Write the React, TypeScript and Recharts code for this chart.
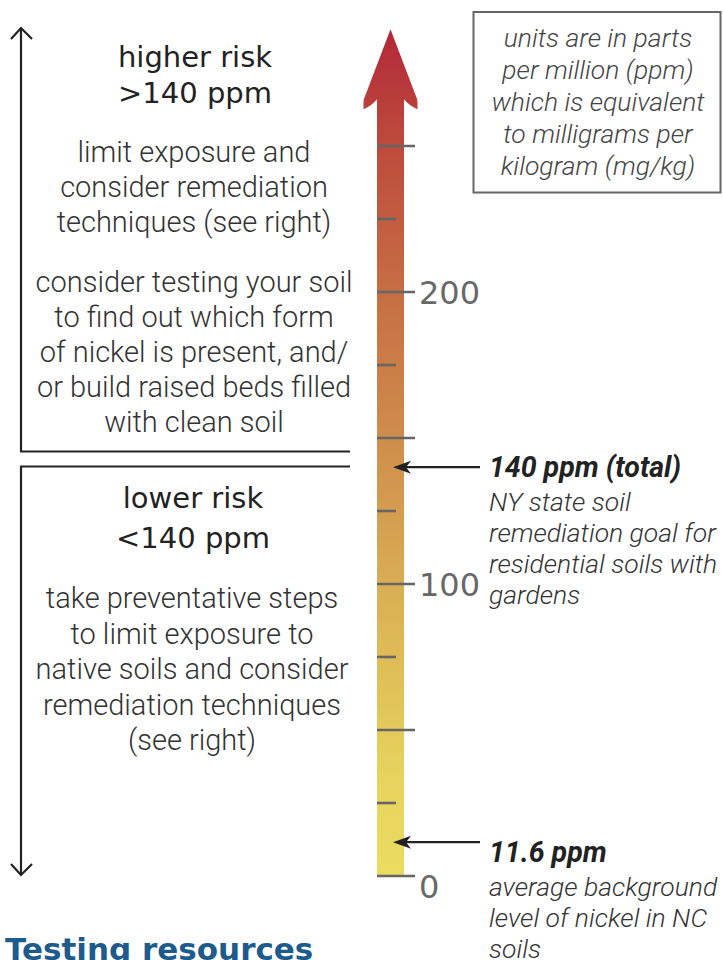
import React from 'react';
import { ComposedChart, Bar, XAxis, YAxis, ReferenceLine } from 'recharts';

// ---------- data ----------
const categories = ['nickel'];
const shaftTop = [266];
const arrowTip = [290];
const barbLevel = [262];
const tickValues = [0, 25, 50, 75, 100, 125, 150, 175, 200, 225, 250];
const majorStep = 50;
const labeledTicks = [0, 100, 200];
const thresholdValue = 140;
const backgroundValue = 11.6;
const thresholdLines = ['140 ppm (total)', 'NY state soil', 'remediation goal for', 'residential soils with', 'gardens'];
const backgroundLines = ['11.6 ppm', 'average background', 'level of nickel in NC', 'soils'];
const unitsLines = ['units are in parts', 'per million (ppm)', 'which is equivalent', 'to milligrams per', 'kilogram (mg/kg)'];
const higherHead = ['higher risk', '>140 ppm'];
const higherBody1 = ['limit exposure and', 'consider remediation', 'techniques (see right)'];
const higherBody2 = ['consider testing your soil', 'to find out which form', 'of nickel is present, and/', 'or build raised beds filled', 'with clean soil'];
const lowerHead = ['lower risk', '<140 ppm'];
const lowerBody = ['take preventative steps', 'to limit exposure to', 'native soils and consider', 'remediation techniques', '(see right)'];
const footerTitle = 'Testing resources';

const data = categories.map((c, i) => ({ name: c, value: shaftTop[i], tip: arrowTip[i], barb: barbLevel[i] }));

// ---------- layout ----------
const W = 723;
const H = 960;
const BAR_LEFT = 377;
const BAR_RIGHT = 404;
const AXIS_W = 60;
const ROBOTO = "Roboto, 'Noto Sans', sans-serif";
const HEAD = "'DejaVu Sans', 'Noto Sans', sans-serif";

const ArrowShape = (props: any) => {
  const { x, y, width, height, payload } = props;
  const bottom = y + height;
  const ppu = height / payload.value;
  const tipY = bottom - payload.tip * ppu;
  const barbY = bottom - payload.barb * ppu;
  const cx = x + width / 2;
  const out = width * 0.65;
  const d = `M${x},${bottom} L${x},${y} Q${x - 6},${barbY - 4} ${x - out},${barbY} L${cx},${tipY} L${x + width + out},${barbY} Q${x + width + 6},${barbY - 4} ${x + width},${y} L${x + width},${bottom} Z`;
  return (
    <g>
      <defs>
        <linearGradient id="niGrad" gradientUnits="userSpaceOnUse" x1={0} y1={bottom} x2={0} y2={tipY}>
          <stop offset="0" stopColor="#EBDC5F" />
          <stop offset="0.12" stopColor="#E7D25D" />
          <stop offset="0.33" stopColor="#DAB055" />
          <stop offset="0.5" stopColor="#D0904C" />
          <stop offset="0.7" stopColor="#C66C43" />
          <stop offset="0.88" stopColor="#BC473B" />
          <stop offset="1" stopColor="#B2283A" />
        </linearGradient>
      </defs>
      <path d={d} fill="url(#niGrad)" />
    </g>
  );
};

const TickMark = (props: any) => {
  const { y, payload } = props;
  const v = payload.value;
  const major = v % majorStep === 0;
  const x2 = major ? BAR_LEFT + 38 : BAR_LEFT + 19;
  const showLabel = labeledTicks.includes(v);
  return (
    <g>
      <line x1={BAR_LEFT} y1={y} x2={x2} y2={y} stroke="#666" strokeWidth={2.6} />
      {showLabel && (
        <text x={BAR_LEFT + 42} y={v === 0 ? y + 11 : y + 1} dominantBaseline="central" fontFamily={HEAD} fontSize={32} fill="#686868">
          {v}
        </text>
      )}
    </g>
  );
};

const Annotation = ({ viewBox, lines, textOffset }: any) => {
  const { x, y, width } = viewBox;
  const right = x + width;
  const tipX = x + 16;
  const tailX = right + 76;
  const textX = right + 85;
  const ty = y + textOffset;
  return (
    <g>
      <line x1={tailX} y1={y} x2={tipX + 10} y2={y} stroke="#222" strokeWidth={2.2} />
      <path d={`M${tipX},${y} L${tipX + 18},${y - 6.5} L${tipX + 13},${y} L${tipX + 18},${y + 6.5} Z`} fill="#222" />
      {lines.map((t: string, i: number) => (
        <text
          key={i}
          x={textX}
          y={i === 0 ? ty : ty + 34.5 + (i - 1) * 31}
          dominantBaseline="central"
          fontFamily={ROBOTO}
          fontStyle="italic"
          fontWeight={i === 0 ? 700 : 300}
          fontSize={i === 0 ? 28.5 : 26.5}
          fill={i === 0 ? '#222' : '#333'}
        >
          {t}
        </text>
      ))}
    </g>
  );
};

const CenterLines = ({ lines, cx, y0, step, size, family, weight, color, italic }: any) => (
  <>
    {lines.map((t: string, i: number) => (
      <text
        key={t}
        x={cx}
        y={y0 + i * step}
        textAnchor="middle"
        dominantBaseline="central"
        fontFamily={family}
        fontSize={size}
        fontWeight={weight}
        fontStyle={italic ? 'italic' : 'normal'}
        fill={color}
      >
        {t}
      </text>
    ))}
  </>
);

export default function App() {
  return (
    <div style={{ position: 'absolute', left: 0, top: 0, width: W, height: H, overflow: 'hidden', background: '#fff' }}>
      <div style={{ position: 'absolute', left: 0, top: 0 }}>
        <ComposedChart
          width={W}
          height={H}
          data={data}
          margin={{ top: 29.2, right: W - BAR_RIGHT - AXIS_W, bottom: 84, left: BAR_LEFT }}
          barCategoryGap={0}
        >
          <XAxis dataKey="name" hide />
          <YAxis
            type="number"
            orientation="right"
            domain={[0, 290]}
            ticks={tickValues}
            interval={0}
            width={AXIS_W}
            axisLine={false}
            tickLine={false}
            tick={<TickMark />}
            allowDataOverflow
          />
          <Bar dataKey="value" isAnimationActive={false} shape={<ArrowShape />} />
          <ReferenceLine
            y={thresholdValue}
            stroke="none"
            ifOverflow="visible"
            label={{ content: (p: any) => <Annotation viewBox={p.viewBox} lines={thresholdLines} textOffset={0} /> }}
          />
          <ReferenceLine
            y={backgroundValue}
            stroke="none"
            ifOverflow="visible"
            label={{ content: (p: any) => <Annotation viewBox={p.viewBox} lines={backgroundLines} textOffset={10} /> }}
          />
        </ComposedChart>
      </div>
      <svg width={W} height={H} style={{ position: 'absolute', left: 0, top: 0, pointerEvents: 'none' }}>
        <g stroke="#222" strokeWidth={2.2} fill="none">
          <line x1={21} y1={28} x2={21} y2={451.5} />
          <polyline points="11,39 21,28 32,39" />
          <line x1={20} y1={451.5} x2={350} y2={451.5} />
          <line x1={20} y1={466.5} x2={350} y2={466.5} />
          <line x1={21} y1={466.5} x2={21} y2={875} />
          <polyline points="11,864 21,875 32,864" />
        </g>
        <rect x={473.5} y={12} width={247} height={180.5} fill="none" stroke="#666" strokeWidth={2} />
        <CenterLines lines={unitsLines} cx={598} y0={37} step={32} size={26.5} family={ROBOTO} weight={300} color="#444" italic />
        <CenterLines lines={higherHead} cx={195} y0={57} step={36} size={29} family={HEAD} weight={400} color="#222" />
        <CenterLines lines={higherBody1} cx={194} y0={152} step={35} size={29} family={ROBOTO} weight={300} color="#333" />
        <CenterLines lines={higherBody2} cx={194} y0={282} step={35} size={29} family={ROBOTO} weight={300} color="#333" />
        <CenterLines lines={lowerHead} cx={193} y0={498} step={40} size={29} family={HEAD} weight={400} color="#222" />
        <CenterLines lines={lowerBody} cx={192} y0={598} step={35.5} size={29} family={ROBOTO} weight={300} color="#333" />
        <text x={5} y={960} fontFamily={HEAD} fontWeight={700} fontSize={31} fill="#1d5b8c">
          {footerTitle}
        </text>
      </svg>
    </div>
  );
}
